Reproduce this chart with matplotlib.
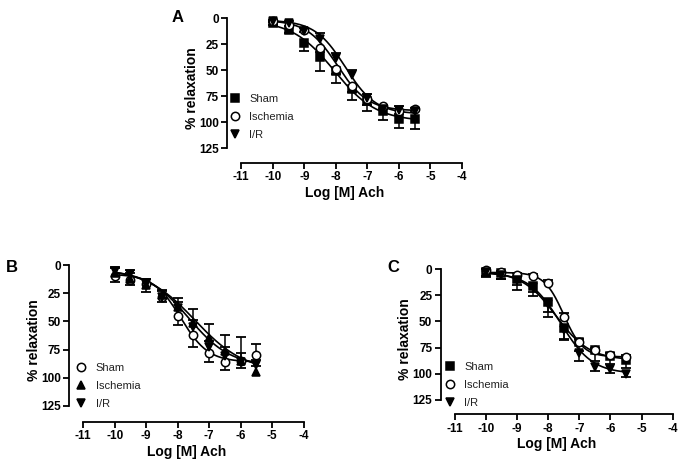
"""Concentration-response curves to acetylcholine (panels A, B, C)"""

import matplotlib.pyplot as plt
from matplotlib.lines import Line2D
import numpy as np

plt.rcParams['font.family'] = ['Liberation Sans', 'DejaVu Sans']
plt.rcParams['axes.unicode_minus'] = False

# ========================================
# Data
# ========================================
log_ach = [-10, -9.5, -9, -8.5, -8, -7.5, -7, -6.5, -6, -5.5]

# Panel A
a_labels = ['Sham', 'Ischemia', 'I/R']
a_sham = [5, 11.5, 24, 37, 50.5, 68, 80, 89, 97, 97]
a_isch = [3, 7, 11.5, 29, 49, 65, 78, 84, 89, 87]
a_ir = [3, 5, 12, 20, 38.5, 55, 76.5, 87, 88, 89.5]
# signed error: + extends towards larger values, - towards smaller
a_sham_err = [2, 3, 8, 14, 12, 11, 9, 9, 8, 9]
a_isch_err = [1, 1, 2, 4, 5, 6, 5, 3, 3, 2]
a_ir_err = [-1, -2, -2, -6, -5, -5, -4, -4, -4, -3]
# fit parameters: bottom, top, logEC50, hill
a_fit_sham = [2, 99, -8.05, 0.65]
a_fit_isch = [2, 89, -7.95, 0.9]
a_fit_ir = [2, 92, -7.7, 0.9]

# Panel B
b_labels = ['Sham', 'Ischemia', 'I/R']
b_sham = [10, 13, 17, 28, 45, 62.5, 78, 86, 85, 80]
b_isch = [7, 12, 18, 27, 37, 51, 65, 76, 85, 95]
b_ir = [5, 8, 17, 28, 38, 55, 73, 81, 86, 89]
b_sham_err = [5, 5, 7, 5, 8, 10, 8, 7, 6, -10]
b_isch_err = [-4, -5, -6, -5, -8, -12, -13, -14, -21, -5]
b_ir_err = [-3, -4, -5, -5, -5, -6, -6, -8, -8, -5]
b_fit_sham = [8, 86, -7.9, 1.0]
b_fit_isch = [3, 95, -7.45, 0.55]
b_fit_ir = [4, 90, -7.65, 0.65]

# Panel C
c_labels = ['Sham', 'Ischemia', 'I/R']
c_sham = [3, 4, 9.5, 16, 31, 56.5, 70, 77.5, 83, 86.5]
c_isch = [1, 3, 5.5, 6.5, 13.5, 46, 69.5, 77, 82.5, 84]
c_ir = [3, 5, 10, 17, 33, 58, 80, 93.5, 96, 100]
c_sham_err = [4, 5, 10, 10, 15, 10, 8, 10, 8, 8]
c_isch_err = [-1, -1, -2, -2, -3, -4, -3, -2, -2, -2]
c_ir_err = [3, 4, 5, 5, 8, 10, 8, 4, 3, 3]
c_fit_sham = [2, 87, -7.75, 0.8]
c_fit_isch = [3, 84, -7.5, 1.4]
c_fit_ir = [3, 100, -7.6, 0.85]

y_ticks = [0, 25, 50, 75, 100, 125]
x_ticks = [-11, -10, -9, -8, -7, -6, -5, -4]

# ========================================
# Helpers
# ========================================

def sigmoid(x, fit):
    bottom, top, logec50, hill = fit
    return bottom + (top - bottom) / (1 + 10 ** ((logec50 - x) * hill))


def draw_series(ax, y, err, fit, marker, filled):
    x = np.array(log_ach)
    y = np.array(y, dtype=float)
    err = np.array(err, dtype=float)
    xs = np.linspace(min(log_ach), max(log_ach), 200)
    ax.plot(xs, sigmoid(xs, fit), color='black', lw=1.2, zorder=2)
    ax.vlines(x, y, y + err, color='black', lw=1.1, zorder=2)
    ax.plot(x, y + err, ls='none', marker='_', ms=7, mew=1.3,
            color='black', zorder=2)
    ax.plot(x, y, ls='none', marker=marker, ms=6, mew=1.1,
            mec='black', mfc='black' if filled else 'white', zorder=3,
            clip_on=False)


def style_axes(ax, legend_xy, labels, styles):
    ax.set_ylim(139, -5)
    ax.set_xlim(-11.45, -4)
    ax.spines['top'].set_visible(False)
    ax.spines['right'].set_visible(False)
    ax.spines['left'].set_bounds(0, 125)
    ax.spines['bottom'].set_bounds(-11, -4)
    ax.spines['left'].set_linewidth(1.3)
    ax.spines['bottom'].set_linewidth(1.3)
    ax.set_yticks(y_ticks)
    ax.set_xticks(x_ticks)
    ax.tick_params(width=1.3, length=4, labelsize=8.5, pad=2)
    for lbl in ax.get_xticklabels() + ax.get_yticklabels():
        lbl.set_fontweight('bold')
    ax.set_ylabel('% relaxation', fontsize=10, fontweight='bold', labelpad=0)
    ax.set_xlabel('Log [M] Ach', fontsize=10, fontweight='bold', labelpad=2)

    handles = [Line2D([], [], ls='none', marker=m, ms=6, mew=1.1, mec='black',
                      mfc='black' if f else 'white') for m, f in styles]
    ax.legend(handles, labels, loc='upper left', bbox_to_anchor=legend_xy,
              frameon=False, fontsize=8, handlelength=1.0, handletextpad=0.8,
              labelspacing=0.72, borderaxespad=0, borderpad=0,
              labelcolor='#222222')


# ========================================
# Figure
# ========================================
W, H = 685, 465
fig = plt.figure(figsize=(W / 100, H / 100), dpi=100)


def px_axes(left, right, top, bottom):
    return fig.add_axes([left / W, 1 - bottom / H, (right - left) / W, (bottom - top) / H])


ax_a = px_axes(227, 462, 12.8, 163)
ax_b = px_axes(69, 303.7, 259.4, 421.7)
ax_c = px_axes(440.7, 672.7, 264.1, 414.3)

# Panel A
draw_series(ax_a, a_sham, a_sham_err, a_fit_sham, 's', True)
draw_series(ax_a, a_isch, a_isch_err, a_fit_isch, 'o', False)
draw_series(ax_a, a_ir, a_ir_err, a_fit_ir, 'v', True)
style_axes(ax_a, (0.01, 0.46), a_labels, [('s', True), ('o', False), ('v', True)])

# Panel B
draw_series(ax_b, b_sham, b_sham_err, b_fit_sham, 'o', False)
draw_series(ax_b, b_isch, b_isch_err, b_fit_isch, '^', True)
draw_series(ax_b, b_ir, b_ir_err, b_fit_ir, 'v', True)
style_axes(ax_b, (0.028, 0.36), b_labels, [('o', False), ('^', True), ('v', True)])

# Panel C
draw_series(ax_c, c_sham, c_sham_err, c_fit_sham, 's', True)
draw_series(ax_c, c_isch, c_isch_err, c_fit_isch, 'o', False)
draw_series(ax_c, c_ir, c_ir_err, c_fit_ir, 'v', True)
style_axes(ax_c, (0.016, 0.35), c_labels, [('s', True), ('o', False), ('v', True)])

fig.text(178 / W, 1 - 17 / H, 'A', fontsize=12, fontweight='bold', ha='center', va='center')
fig.text(12 / W, 1 - 267 / H, 'B', fontsize=12, fontweight='bold', ha='center', va='center')
fig.text(393 / W, 1 - 268 / H, 'C', fontsize=12, fontweight='bold', ha='center', va='center')

plt.savefig('out.png', dpi=100)
